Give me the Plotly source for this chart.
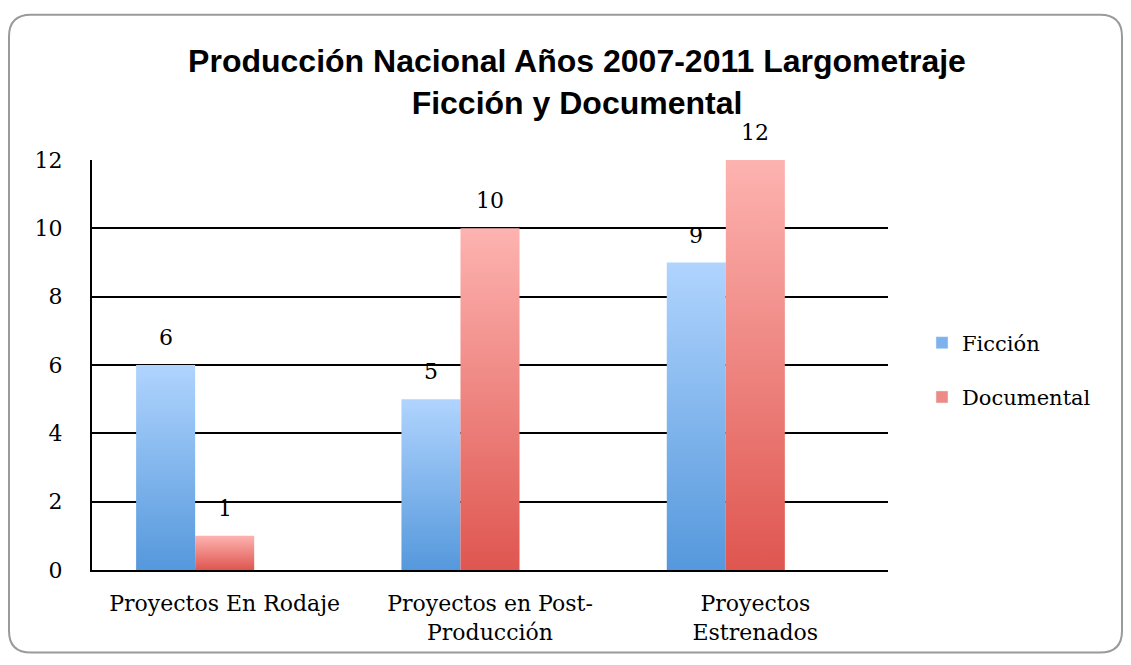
import plotly.graph_objects as go

# data
categories = ["Proyectos En Rodaje", "Proyectos en Post-<br>Producción", "Proyectos<br>Estrenados"]
series_names = ["Ficción", "Documental"]
ficcion = [6, 5, 9]
documental = [1, 10, 12]
y_ticks = [0, 2, 4, 6, 8, 10, 12]

SERIF = "DejaVu Serif, Liberation Serif, serif"
GRADIENTS = {
    "Ficción": [[0, "#5598dc"], [1, "#b0d4fe"]],
    "Documental": [[0, "#df5650"], [1, "#fdb3b0"]],
}
SWATCH = {"Ficción": "#7db2ee", "Documental": "#ee8a86"}

# the page body adds an 8px margin, so everything is laid out 8px up/left
W, H = 1115, 649
L, R, T, B = 84, 880, 152, 564  # plot area in pixels
BAR_W = 0.2225                  # bar width in category units
OFFSETS = [-1.0, 0.0]           # bar centre offsets (third empty slot on the right)

fig = go.Figure()

for s, (name, values) in enumerate(zip(series_names, [ficcion, documental])):
    for i, v in enumerate(values):
        cx = i + OFFSETS[s] * BAR_W
        x0, x1 = cx - BAR_W / 2, cx + BAR_W / 2
        fig.add_trace(go.Scatter(
            x=[x0, x1, x1, x0, x0], y=[0, 0, v, v, 0],
            fill="toself", mode="none",
            fillgradient=dict(type="vertical", colorscale=GRADIENTS[name]),
            showlegend=False, hoverinfo="skip"
        ))
        fig.add_annotation(
            x=cx, y=v, text=str(v), showarrow=False,
            yanchor="bottom", yshift=13,
            font=dict(family=SERIF, size=22, color="black")
        )
    # legend entry
    fig.add_trace(go.Bar(
        x=[None], y=[None], name=name, marker_color=SWATCH[name],
        legendgroup=name, showlegend=True
    ))

# rounded outer frame, converted from pixels to paper units
def px(x):
    return (x - L) / (R - L)

def py(y):
    return (B - y) / (B - T)

x0, x1, y0, y1, r = 1, 1114, 6, 647, 22
rx, ry = r / (R - L), r / (B - T)
path = (
    f"M {px(x0)+rx},{py(y0)} L {px(x1)-rx},{py(y0)} "
    f"Q {px(x1)},{py(y0)} {px(x1)},{py(y0)-ry} "
    f"L {px(x1)},{py(y1)+ry} Q {px(x1)},{py(y1)} {px(x1)-rx},{py(y1)} "
    f"L {px(x0)+rx},{py(y1)} Q {px(x0)},{py(y1)} {px(x0)},{py(y1)+ry} "
    f"L {px(x0)},{py(y0)-ry} Q {px(x0)},{py(y0)} {px(x0)+rx},{py(y0)} Z"
)
fig.add_shape(type="path", path=path, xref="paper", yref="paper",
              line=dict(color="#9a9a9a", width=2), layer="below")

fig.update_layout(
    width=W, height=H,
    margin=dict(l=L, r=W - R, t=T, b=H - B),
    paper_bgcolor="white", plot_bgcolor="white",
    title=dict(
        text="Producción Nacional Años 2007-2011 Largometraje<br>Ficción y Documental",
        x=569 / W, xanchor="center", xref="container",
        y=1 - 64 / H, yanchor="top", yref="container",
        font=dict(family="Liberation Sans, Arial, sans-serif", size=32, color="black", weight="bold")
    ),
    legend=dict(
        x=px(914), y=py(363), xanchor="left", yanchor="middle",
        font=dict(family=SERIF, size=21, color="black"),
        tracegroupgap=24, itemwidth=30, bgcolor="rgba(0,0,0,0)"
    ),
    showlegend=True,
)

fig.update_xaxes(
    range=[-0.5, 2.5], tickvals=[0, 1, 2], ticktext=categories,
    showgrid=False, zeroline=False,
    showline=True, linecolor="black", linewidth=2,
    ticks="", ticklabelstandoff=13,
    tickfont=dict(family=SERIF, size=22, color="black")
)
fig.update_yaxes(
    range=[0, 12], tickvals=y_ticks,
    showgrid=True, gridcolor="black", gridwidth=2,
    zeroline=False, showline=True, linecolor="black", linewidth=2,
    ticks="", ticklabelstandoff=23,
    tickfont=dict(family=SERIF, size=22, color="black")
)

fig.write_html("out.html")
